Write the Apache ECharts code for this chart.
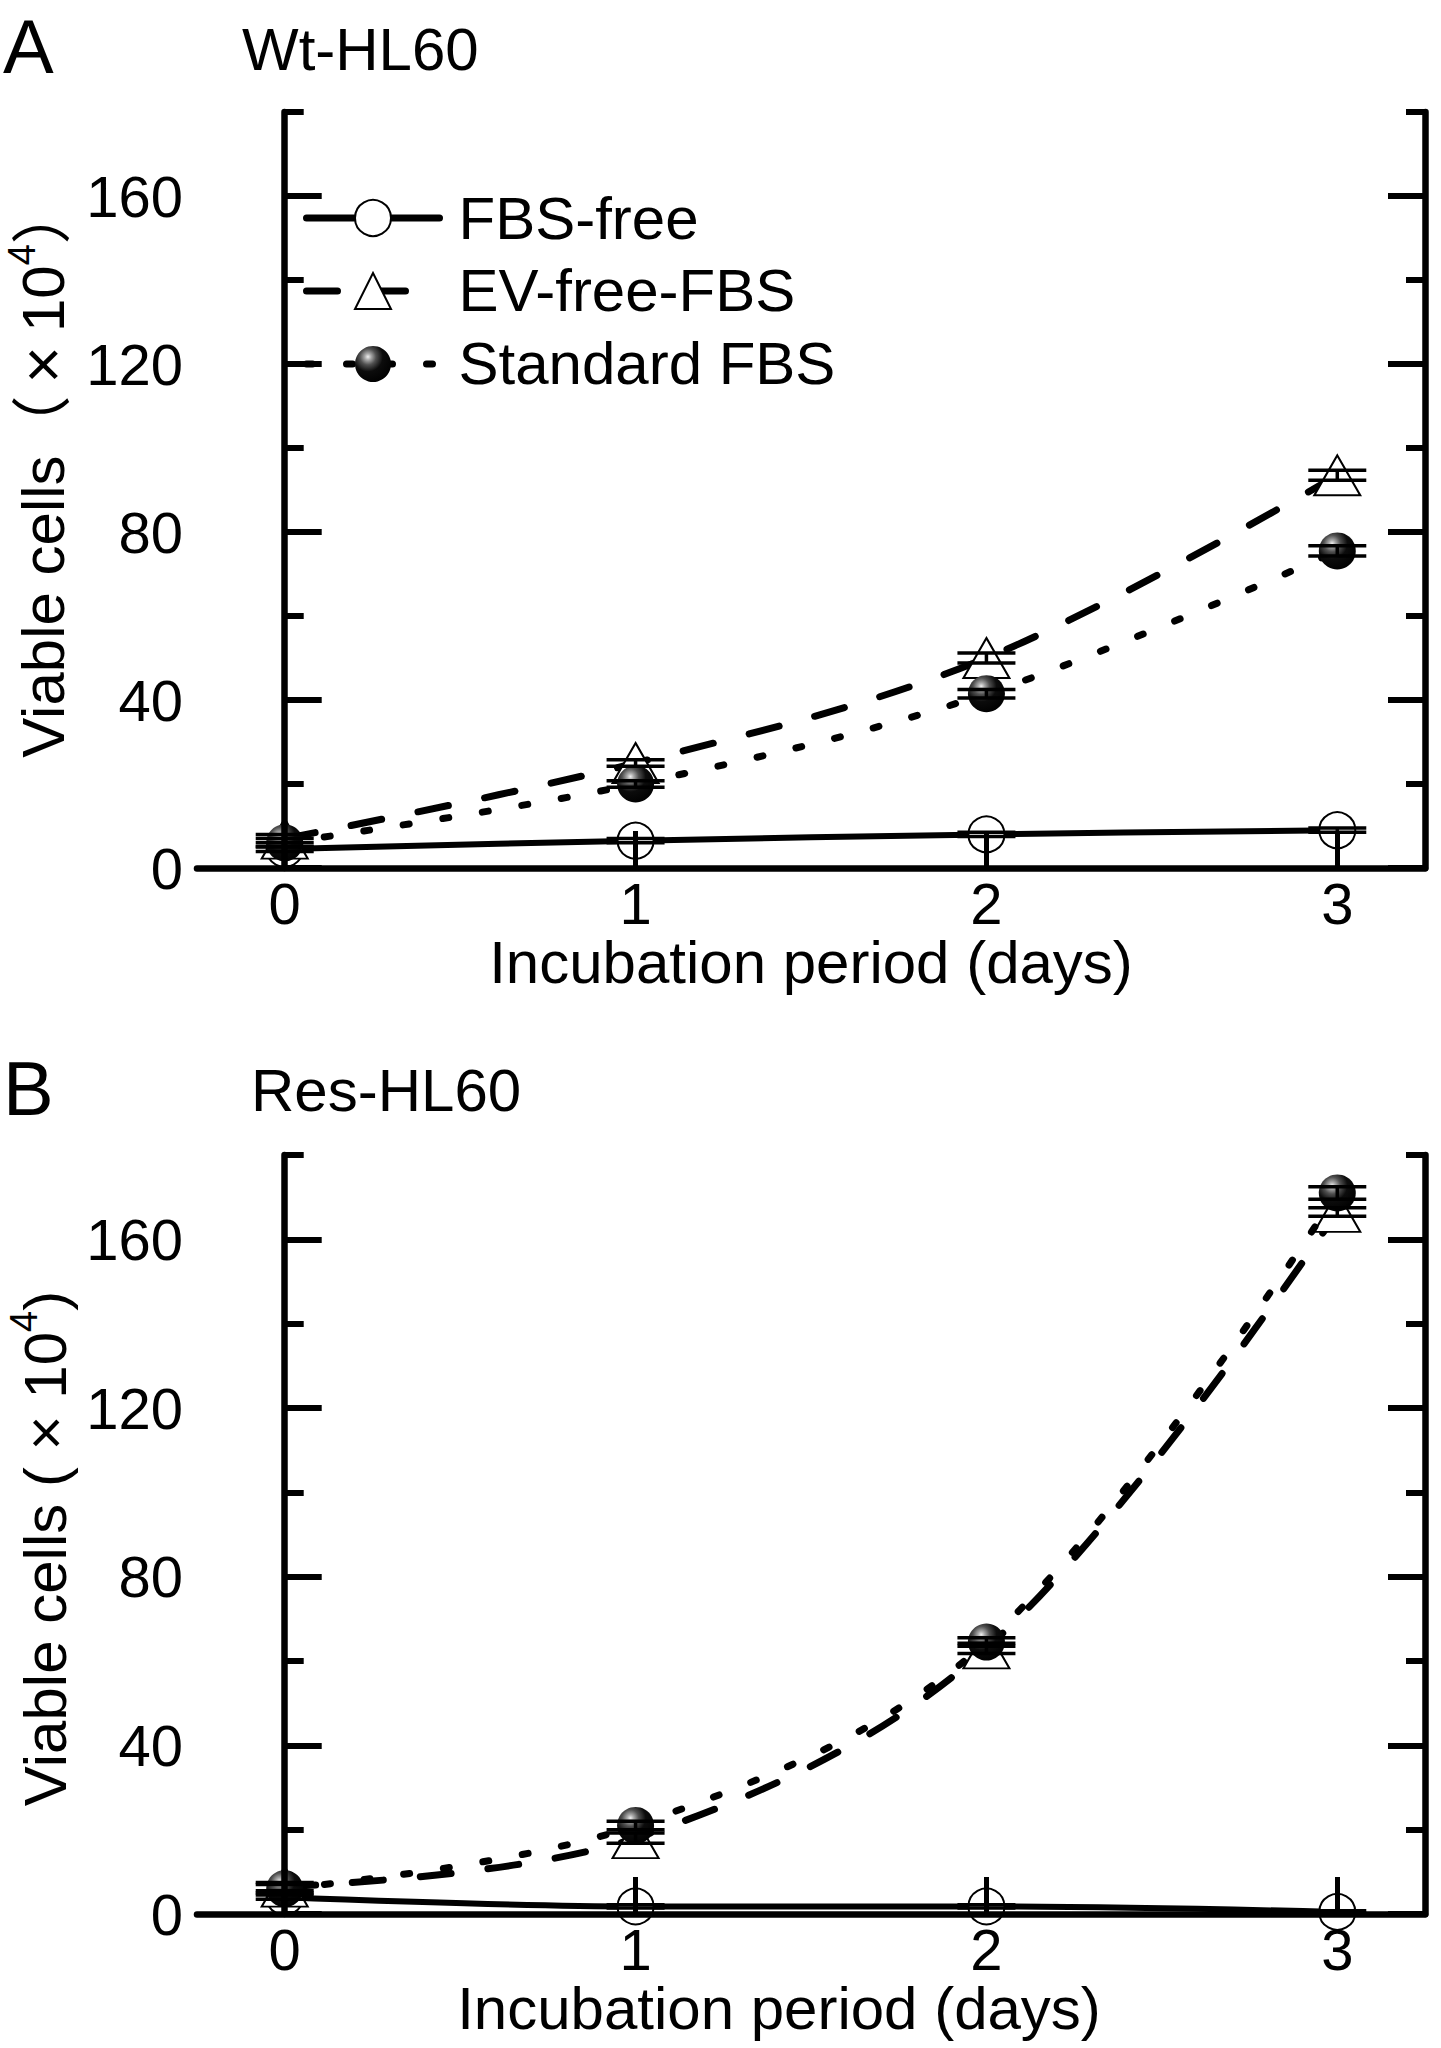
<!DOCTYPE html>
<html>
<head>
<meta charset="utf-8">
<script src="https://cdn.jsdelivr.net/npm/echarts@6.0.0/dist/echarts.min.js"></script>
<style>
html, body { margin: 0; padding: 0; background: #fff; }
#chart { width: 1441px; height: 2048px; }
</style>
</head>
<body>
<div id="chart"></div>
<script>
// incubation days and tick values
var days = [0, 1, 2, 3];
var xTickValues = [0, 1, 2, 3];
var yMajorTicks = [0, 40, 80, 120, 160];
var yMinorTicks = [20, 60, 100, 140, 180];

// panel A, Wt-HL60 (x10^4 cells)
var wtFbsFree = [4.5, 6.5, 8.0, 9.0];
var wtFbsFreeSd = [0.6, 0.5, 0.5, 0.5];
var wtEvFree = [7.0, 25.0, 50.0, 93.5];
var wtEvFreeSd = [1.0, 0.8, 1.2, 1.2];
var wtStandard = [6.0, 20.0, 41.5, 75.5];
var wtStandardSd = [1.0, 0.8, 1.0, 1.2];

// panel B, Res-HL60 (x10^4 cells)
var resFbsFree = [4.0, 1.8, 1.8, 0.5];
var resFbsFreeSd = [0.5, 0.4, 0.4, 0.3];
var resEvFree = [6.5, 18.0, 63.0, 166.5];
var resEvFreeSd = [1.0, 1.2, 1.2, 1.0];
var resStandard = [6.0, 21.0, 64.5, 171.0];
var resStandardSd = [1.0, 1.0, 1.0, 1.5];

var FONT = '"Liberation Sans", Arial, "Noto Sans CJK JP", sans-serif';

var sphere = {
    type: 'radial', x: 0.36, y: 0.3, r: 0.75,
    colorStops: [
        { offset: 0, color: '#f0f0f0' },
        { offset: 0.12, color: '#a8a8a8' },
        { offset: 0.3, color: '#505050' },
        { offset: 0.55, color: '#0c0c0c' },
        { offset: 1, color: '#000' }
    ]
};

function pairs(ys) {
    return days.map(function (d, i) { return [d, ys[i]]; });
}
function errData(ys, sds) {
    return days.map(function (d, i) { return [d, ys[i], sds[i]]; });
}

function renderErr(params, api) {
    var x = api.value(0), y = api.value(1), sd = api.value(2);
    var hi = api.coord([x, y + sd]);
    var lo = api.coord([x, y - sd]);
    var w = 29;
    var st = { stroke: '#000', lineWidth: 3.5 };
    return {
        type: 'group',
        children: [
            { type: 'line', shape: { x1: hi[0], y1: hi[1], x2: lo[0], y2: lo[1] }, style: st },
            { type: 'line', shape: { x1: hi[0] - w, y1: hi[1], x2: hi[0] + w, y2: hi[1] }, style: st },
            { type: 'line', shape: { x1: lo[0] - w, y1: lo[1], x2: lo[0] + w, y2: lo[1] }, style: st }
        ]
    };
}

function lineSeries(name, xi, yi, ys, kind) {
    var s = {
        name: name,
        type: 'line',
        xAxisIndex: xi,
        yAxisIndex: yi,
        data: pairs(ys),
        smooth: 0.35,
        z: 3,
        lineStyle: { color: '#000', width: 7, cap: 'round' },
        itemStyle: { color: '#000', borderColor: '#000', borderWidth: 3 },
        emphasis: { disabled: true }
    };
    if (kind === 'circle') {
        s.symbol = 'emptyCircle';
        s.symbolSize = 36;
        s.lineStyle.width = 6;
    } else if (kind === 'triangle') {
        s.symbol = 'emptyTriangle';
        s.symbolSize = [46, 40];
        s.lineStyle.type = [31, 37];
    } else {
        s.symbol = 'circle';
        s.symbolSize = 37;
        s.itemStyle = { color: sphere, borderWidth: 0 };
        s.lineStyle.type = [6, 34];
        s.z = 4;
    }
    return s;
}

function errSeries(xi, yi, ys, sds) {
    return {
        type: 'custom',
        xAxisIndex: xi,
        yAxisIndex: yi,
        data: errData(ys, sds),
        renderItem: renderErr,
        z: 5,
        silent: true
    };
}

function mainX(gi, nameStyle) {
    return {
        gridIndex: gi, type: 'value', min: -0.25, max: 3.25, z: 6,
        axisLine: { show: true, onZero: false, lineStyle: { color: '#000', width: 6.5 } },
        axisTick: { show: true, inside: true, length: 37, customValues: xTickValues, lineStyle: { color: '#000', width: 5 } },
        axisLabel: { customValues: xTickValues, fontSize: 58, color: '#000', margin: 6, fontFamily: FONT },
        splitLine: { show: false },
        name: 'Incubation period (days)', nameLocation: 'middle', nameGap: 62,
        nameTextStyle: nameStyle
    };
}
function hiddenX(gi) {
    return { gridIndex: gi, type: 'value', min: -0.25, max: 3.25, show: false };
}
var nameRich = {
    n: { fontSize: 60, lineHeight: 80, verticalAlign: 'middle', color: '#000', fontFamily: FONT },
    x: { fontSize: 64, lineHeight: 80, verticalAlign: 'middle', color: '#000', fontFamily: FONT, padding: [0, 14, 0, 12] },
    s: { fontSize: 38, lineHeight: 38, verticalAlign: 'top', color: '#000', fontFamily: FONT }
};
function mainY(gi, pos, name, pad) {
    var ax = {
        gridIndex: gi, type: 'value', position: pos, min: 0, max: 180, z: 6,
        axisLine: { show: true, lineStyle: { color: '#000', width: 6.5 } },
        axisTick: { show: true, inside: true, length: 37, customValues: yMajorTicks, lineStyle: { color: '#000', width: 6 } },
        axisLabel: { show: pos === 'left', customValues: yMajorTicks, fontSize: 58, color: '#000', margin: 14, fontFamily: FONT },
        splitLine: { show: false }
    };
    if (name) {
        ax.name = name;
        ax.nameLocation = 'middle';
        ax.nameRotate = 90;
        ax.nameGap = 91;
        ax.nameTextStyle = { rich: nameRich, padding: pad };
    }
    return ax;
}
function minorY(gi, pos) {
    return {
        gridIndex: gi, type: 'value', position: pos, min: 0, max: 180, z: 6,
        axisLine: { show: false },
        axisTick: { show: true, inside: true, length: 19, customValues: yMinorTicks, lineStyle: { color: '#000', width: 6 } },
        axisLabel: { show: false },
        splitLine: { show: false }
    };
}

var gridA = { left: 197, top: 112, width: 1228, height: 756, outerBoundsMode: 'none' };
var gridB = { left: 197, top: 1155, width: 1228, height: 759, outerBoundsMode: 'none' };

var chart = echarts.init(document.getElementById('chart'), null, { renderer: 'svg' });
chart.setOption({
    backgroundColor: '#fff',
    animation: false,
    textStyle: { fontFamily: FONT },
    grid: [gridA, gridA, gridB, gridB],
    xAxis: [
        mainX(0, { fontSize: 60, color: '#000', fontFamily: FONT }),
        hiddenX(1),
        mainX(2, { fontSize: 60, color: '#000', fontFamily: FONT, padding: [0, 64, 0, 0] }),
        hiddenX(3)
    ],
    yAxis: [
        mainY(0, 'left', '{n|Viable cells（}{x|×}{n|10}{s|4}{n|）}', [0, 0, 0, 38]),
        mainY(0, 'right'),
        minorY(1, 'left'),
        minorY(1, 'right'),
        mainY(2, 'left', '{n|Viable cells ( × 10}{s|4}{n|)}', [0, 28, 0, 0]),
        mainY(2, 'right'),
        minorY(3, 'left'),
        minorY(3, 'right')
    ],
    legend: {
        orient: 'vertical',
        left: 298,
        top: 183,
        itemWidth: 133,
        itemHeight: 45,
        itemGap: 13,
        selectedMode: false,
        data: ['FBS-free', 'EV-free-FBS', 'Standard FBS'],
        lineStyle: { width: 7 },
        textStyle: { fontSize: 60, color: '#000', fontFamily: FONT, padding: [0, 0, 0, 14] }
    },
    graphic: [
        { type: 'text', x: 3, y: 46, style: { text: 'A', font: '76px ' + FONT, fill: '#000', verticalAlign: 'middle' } },
        { type: 'text', x: 242, y: 49, style: { text: 'Wt-HL60', font: '60px ' + FONT, fill: '#000', verticalAlign: 'middle' } },
        { type: 'text', x: 3, y: 1088, style: { text: 'B', font: '76px ' + FONT, fill: '#000', verticalAlign: 'middle' } },
        { type: 'text', x: 251, y: 1090, style: { text: 'Res-HL60', font: '60px ' + FONT, fill: '#000', verticalAlign: 'middle' } }
    ],
    series: [
        lineSeries('FBS-free', 0, 0, wtFbsFree, 'circle'),
        lineSeries('EV-free-FBS', 0, 0, wtEvFree, 'triangle'),
        lineSeries('Standard FBS', 0, 0, wtStandard, 'sphere'),
        errSeries(0, 0, wtFbsFree, wtFbsFreeSd),
        errSeries(0, 0, wtEvFree, wtEvFreeSd),
        errSeries(0, 0, wtStandard, wtStandardSd),
        lineSeries('FBS-free', 2, 4, resFbsFree, 'circle'),
        lineSeries('EV-free-FBS', 2, 4, resEvFree, 'triangle'),
        lineSeries('Standard FBS', 2, 4, resStandard, 'sphere'),
        errSeries(2, 4, resFbsFree, resFbsFreeSd),
        errSeries(2, 4, resEvFree, resEvFreeSd),
        errSeries(2, 4, resStandard, resStandardSd)
    ]
});
</script>
</body>
</html>
